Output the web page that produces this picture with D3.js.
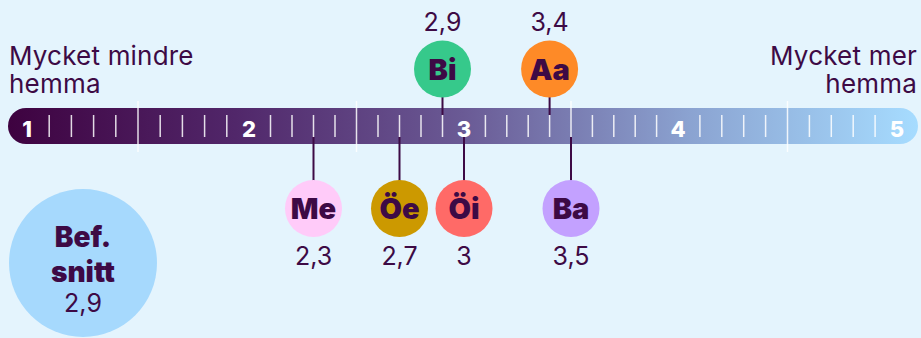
<!DOCTYPE html>
<meta charset="utf-8">
<html>
<script src="https://d3js.org/d3.v7.min.js"></script>
<style>
    body { margin: 0; background: #e4f4fd; }
    svg text { font-family: Inter, Lato, sans-serif; fill: #3d0a45; }
</style>
<body>
<div id="chart"></div>
<script>
    // data
    var scaleSteps = [1, 2, 3, 4, 5];
    var groups = ["Me", "Öe", "Öi", "Bi", "Aa", "Ba"];
    var values = [2.3, 2.7, 3, 2.9, 3.4, 3.5];
    var valueLabels = ["2,3", "2,7", "3", "2,9", "3,4", "3,5"];
    var above = [false, false, false, true, true, false];
    var colors = ["#ffcbf9", "#cc9900", "#ff6a67", "#36c98b", "#fe8a27", "#c3a1ff"];
    var average = 2.9;
    var averageLabel = "2,9";

    var width = 921, height = 338;
    var ink = "#3d0a45";

    var svg = d3.select("#chart").append("svg")
        .attr("width", width)
        .attr("height", height);

    // x position of a value on the bar
    var x = d3.scaleLinear()
        .domain(scaleSteps)
        .range([27, 249, 464, 678, 897]);

    var barTop = 108, barH = 36, barMid = barTop + barH / 2;

    // gradient for the bar
    var grad = svg.append("defs").append("linearGradient")
        .attr("id", "barGrad");
    var stops = [["0%", "#3e0240"], ["25%", "#51276a"], ["50%", "#6a5a95"], ["75%", "#8ba3d1"], ["100%", "#a6dcff"]];
    stops.forEach(function (s) {
        grad.append("stop").attr("offset", s[0]).attr("stop-color", s[1]);
    });

    svg.append("rect")
        .attr("x", 8).attr("y", barTop)
        .attr("width", 910).attr("height", barH)
        .attr("rx", barH / 2)
        .attr("fill", "url(#barGrad)");

    // minor ticks and half-step separators
    var tickVals = d3.range(11, 50).filter(function (i) { return i % 10 != 0; }).map(function (i) { return i / 10; });
    svg.append("g").selectAll("line")
        .data(tickVals).enter().append("line")
        .attr("x1", function (d) { return x(d); })
        .attr("x2", function (d) { return x(d); })
        .attr("y1", function (d) { return Math.round(d * 10) % 10 == 5 ? 101 : 115; })
        .attr("y2", function (d) { return Math.round(d * 10) % 10 == 5 ? 152 : 137; })
        .attr("stroke", "#ffffff")
        .attr("stroke-opacity", 0.85)
        .attr("stroke-width", 1.5);

    // step labels
    svg.append("g").selectAll("text")
        .data(scaleSteps).enter().append("text")
        .attr("x", function (d) { return x(d); })
        .attr("y", barMid + 11)
        .attr("text-anchor", "middle")
        .style("fill", "#ffffff")
        .style("font-weight", 800)
        .style("font-size", "22px")
        .text(function (d) { return d; });

    // end labels
    var leftLbl = svg.append("text").attr("x", 9).attr("y", 65)
        .style("font-size", "26px").style("letter-spacing", "0.2px");
    leftLbl.append("tspan").attr("x", 9).text("Mycket mindre");
    leftLbl.append("tspan").attr("x", 9).attr("dy", 28).text("hemma");
    var rightLbl = svg.append("text").attr("y", 65).attr("text-anchor", "end")
        .style("font-size", "26px").style("letter-spacing", "0.2px");
    rightLbl.append("tspan").attr("x", 917).text("Mycket mer");
    rightLbl.append("tspan").attr("x", 917).attr("dy", 28).text("hemma");

    // group markers
    var r = 28.5;
    var markers = svg.append("g").selectAll("g")
        .data(groups).enter().append("g")
        .attr("transform", function (d, i) {
            return "translate(" + x(values[i]) + "," + (above[i] ? 69 : 208.5) + ")";
        });

    markers.append("line")
        .attr("x1", 0).attr("x2", 0)
        .attr("y1", 0)
        .attr("y2", function (d, i) { return above[i] ? 115 - 69 : 137 - 208.5; })
        .attr("stroke", ink)
        .attr("stroke-width", 2);

    markers.append("circle")
        .attr("r", r)
        .attr("fill", function (d, i) { return colors[i]; });

    markers.append("text")
        .attr("text-anchor", "middle")
        .attr("y", 10.5)
        .style("font-weight", 900)
        .style("font-size", "29px")
        .text(function (d) { return d; });

    markers.append("text")
        .attr("text-anchor", "middle")
        .attr("y", function (d, i) { return above[i] ? 31 - 69 : 265 - 208.5; })
        .style("font-size", "25px")
        .text(function (d, i) { return valueLabels[i]; });

    // population average
    var avg = svg.append("g").attr("transform", "translate(83,263)");
    avg.append("circle").attr("r", 74).attr("fill", "#a6d9fd");
    avg.append("text").attr("text-anchor", "middle").attr("y", -16)
        .style("font-weight", 900).style("font-size", "28px").text("Bef.");
    avg.append("text").attr("text-anchor", "middle").attr("y", 19)
        .style("font-weight", 900).style("font-size", "28px").text("snitt");
    avg.append("text").attr("text-anchor", "middle").attr("y", 49)
        .style("font-size", "25px").text(averageLabel);
</script>
</body>
</html>
